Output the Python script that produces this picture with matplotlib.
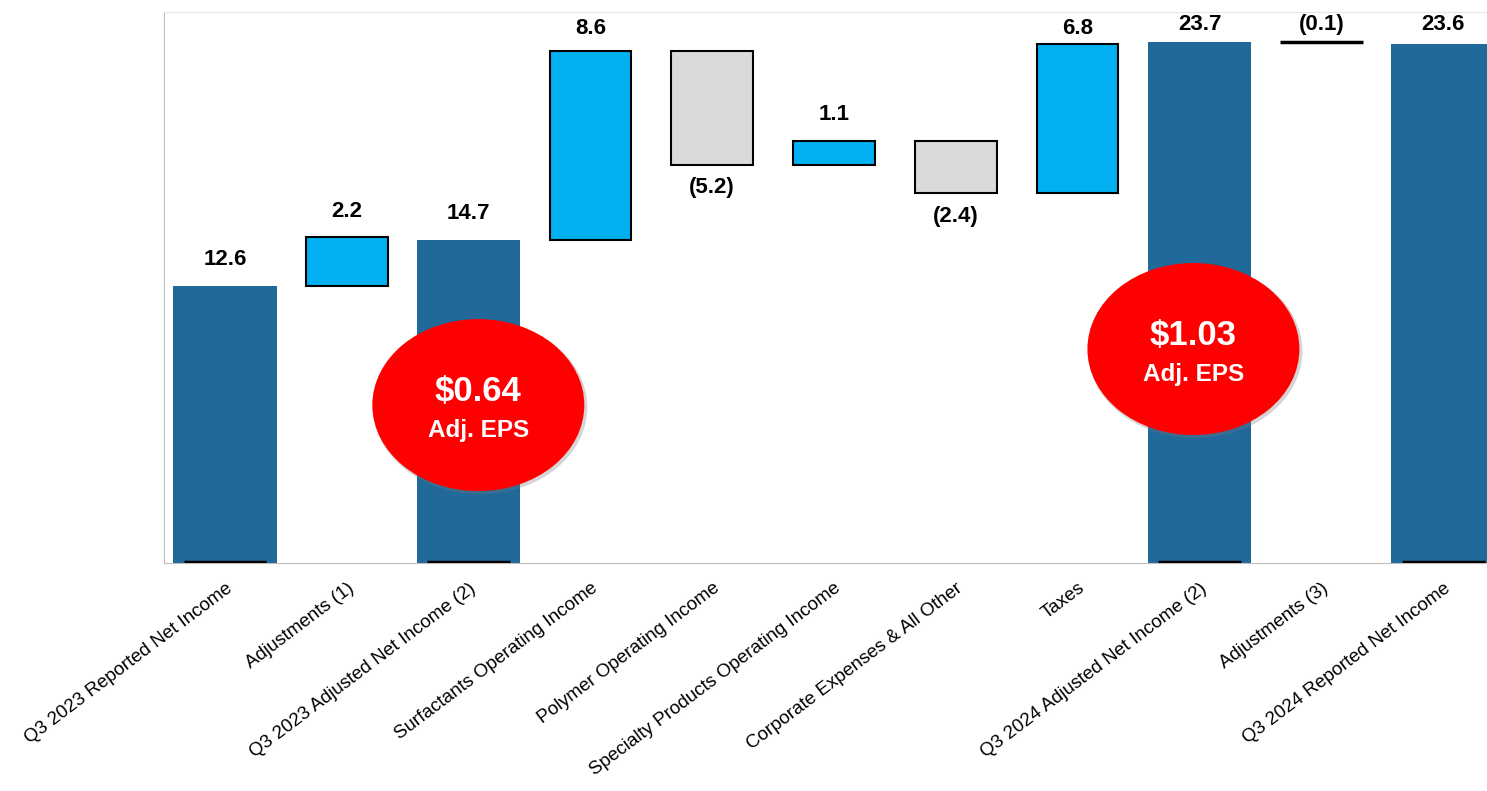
import numpy as np
import matplotlib
matplotlib.use("Agg")
import matplotlib.pyplot as plt
from matplotlib.patches import Ellipse

plt.rcParams['font.family'] = ['Liberation Sans', 'DejaVu Sans']

categories = ["Q3 2023 Reported Net Income", "Adjustments (1)", "Q3 2023 Adjusted Net Income (2)",
              "Surfactants Operating Income", "Polymer Operating Income",
              "Specialty Products Operating Income", "Corporate Expenses & All Other", "Taxes",
              "Q3 2024 Adjusted Net Income (2)", "Adjustments (3)", "Q3 2024 Reported Net Income"]
values = [12.6, 2.2, 14.7, 8.6, -5.2, 1.1, -2.4, 6.8, 23.7, -0.1, 23.6]
is_total = [True, False, True, False, False, False, False, False, True, False, True]
labels = ["12.6", "2.2", "14.7", "8.6", "(5.2)", "1.1", "(2.4)", "6.8", "23.7", "(0.1)", "23.6"]
eps_labels = ["$0.64", "$1.03"]
eps_pos = [(2.08, 7.18), (7.95, 9.73)]

c_total = "#20699a"
c_up = "#00b0f0"
c_down = "#d9d9d9"

fig = plt.figure(figsize=(14.87, 7.91), dpi=100)
ax = fig.add_axes([0.1103, 0.2882, 0.8897, 0.6966])

x = np.arange(len(categories))
running = 0.0
bottoms, heights = [], []
for v, t in zip(values, is_total):
    if t:
        bottoms.append(0.0)
        heights.append(v)
        running = v
    else:
        bottoms.append(running)
        heights.append(v)
        running += v

lab_kw = dict(ha="center", va="center", fontsize=16, fontweight="bold")
for i in range(len(x)):
    hi = max(bottoms[i], bottoms[i] + heights[i])
    lo = min(bottoms[i], bottoms[i] + heights[i])
    if is_total[i]:
        ax.bar(x[i], heights[i], bottom=bottoms[i], width=0.85, color=c_total, zorder=2)
        ax.hlines(0.05, x[i] - 0.34, x[i] + 0.34, color="black", lw=2.5, zorder=3)
        ax.text(x[i], min(hi + 1.2, 24.5), labels[i], **lab_kw)
    elif abs(values[i]) < 0.2:
        ax.hlines(hi, x[i] - 0.34, x[i] + 0.34, color="black", lw=2.5, zorder=3)
        ax.text(x[i], min(hi + 1.2, 24.5), labels[i], **lab_kw)
    else:
        col = c_up if values[i] > 0 else c_down
        ax.bar(x[i], heights[i], bottom=bottoms[i], width=0.67, color=col,
               edgecolor="black", linewidth=1.5, zorder=2)
        if values[i] > 0:
            ax.text(x[i], min(hi + 1.2, 24.3), labels[i], **lab_kw)
        else:
            ax.text(x[i], lo - 1.05, labels[i], **lab_kw)

for (ex, ey), lab in zip(eps_pos, eps_labels):
    shadow = Ellipse((ex + 0.015, ey - 0.1), 1.76, 7.9, color="#777777", alpha=0.3, zorder=4, lw=0)
    ax.add_patch(shadow)
    el = Ellipse((ex, ey), 1.74, 7.82, color="#ff0000", zorder=5, lw=0)
    ax.add_patch(el)
    ax.text(ex, ey + 0.62, lab, ha="center", va="center", color="white",
            fontsize=25, fontweight="bold", zorder=6)
    ax.text(ex, ey - 1.15, "Adj. EPS", ha="center", va="center", color="white",
            fontsize=17.5, fontweight="bold", zorder=6)

ax.set_xlim(-0.5, 10.36)
ax.set_ylim(0, 25.05)
ax.set_yticks([])
ax.set_xticks(x)
ax.set_xticklabels(categories, rotation=37, ha="right", va="top", rotation_mode="anchor",
                   fontsize=13.5)
ax.tick_params(axis="x", length=0, pad=12)
ax.spines["right"].set_visible(False)
ax.spines["top"].set_color("#e6e6e6")
ax.spines["left"].set_color("#bfbfbf")
ax.spines["bottom"].set_color("#bfbfbf")

fig.savefig("out.png", dpi=100)
